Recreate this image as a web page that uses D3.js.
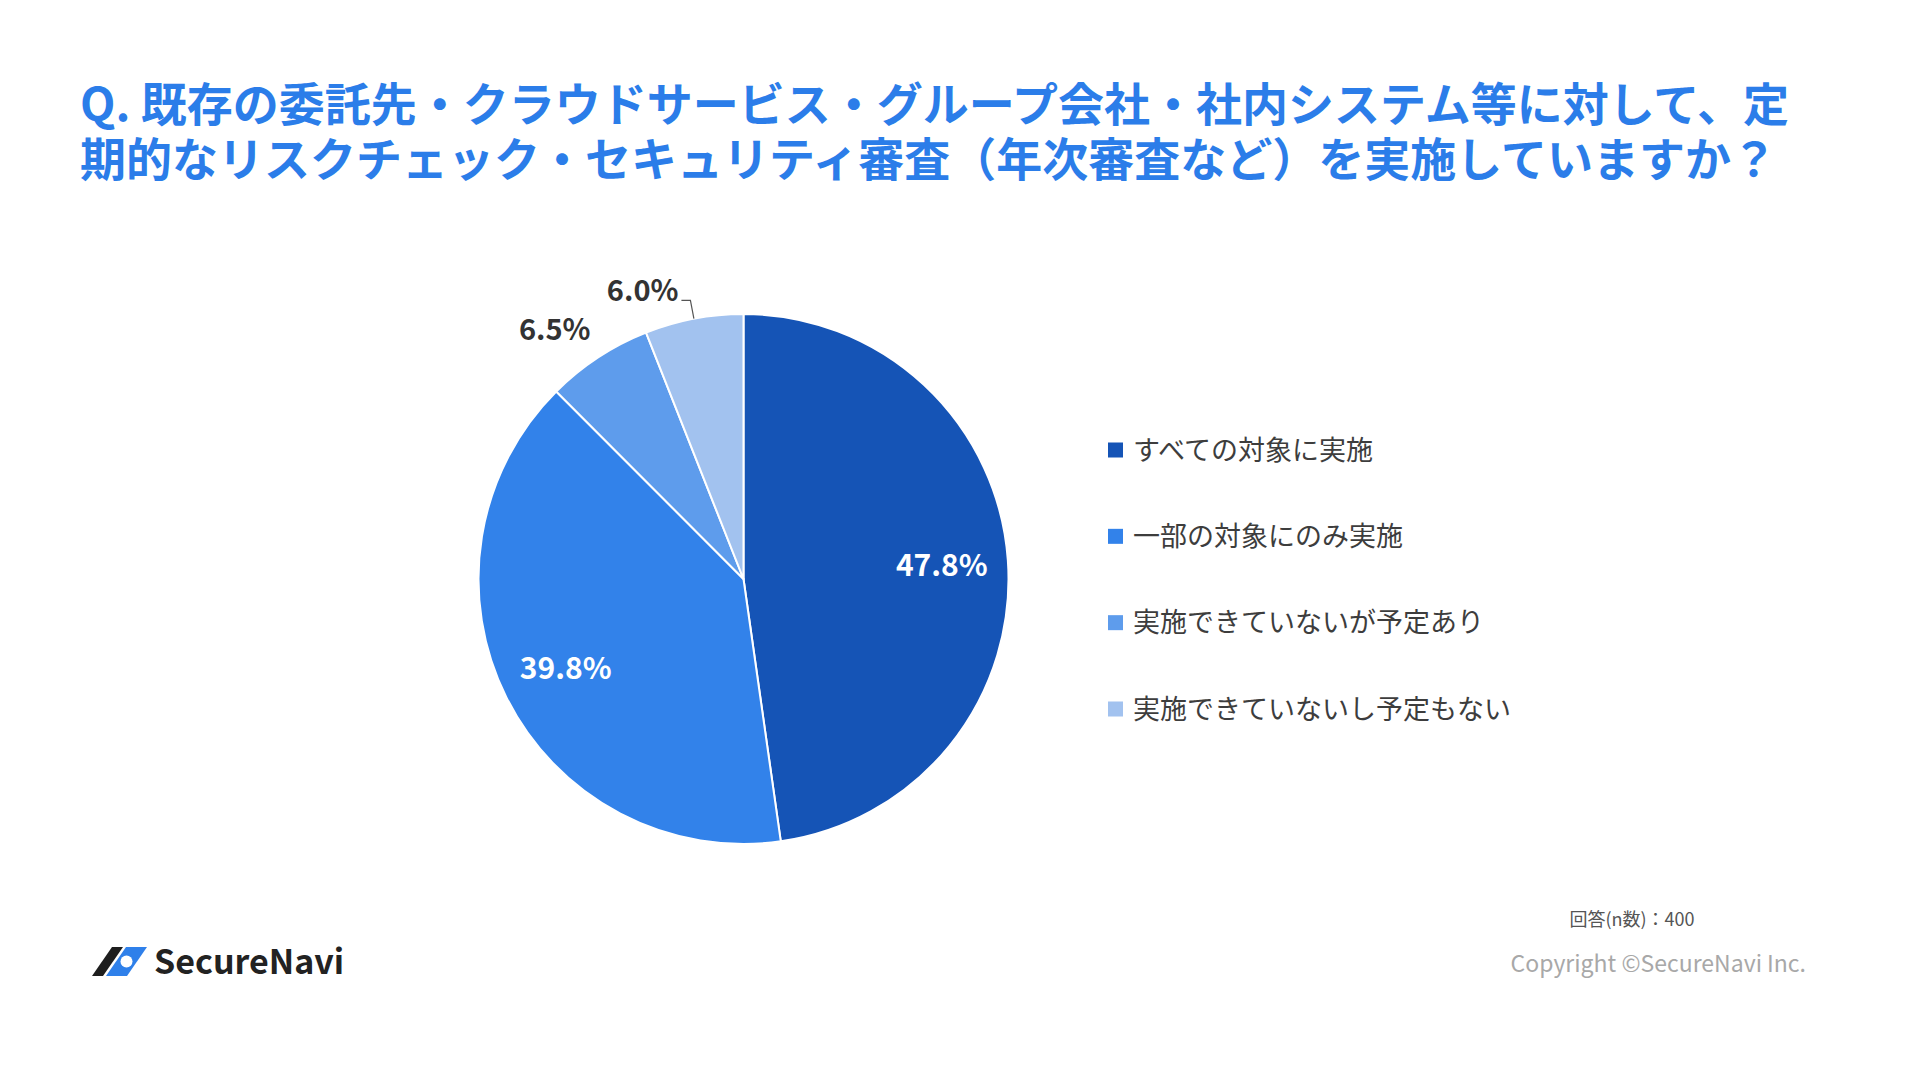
<!DOCTYPE html>
<html>
<head>
<meta charset="utf-8">
<script src="https://cdn.jsdelivr.net/npm/d3@7"></script>
<style>
  html, body { margin: 0; padding: 0; background: #ffffff; }
  svg { display: block; }
  text { font-family: "Noto Sans CJK JP", "Noto Sans", sans-serif; }
</style>
</head>
<body>
<svg id="chart" width="1920" height="1065"></svg>
<script>
// ---- data ----
const categories = ["すべての対象に実施", "一部の対象にのみ実施", "実施できていないが予定あり", "実施できていないし予定もない"];
const values = [47.8, 39.8, 6.5, 6.0];
const valueLabels = ["47.8%", "39.8%", "6.5%", "6.0%"];
const colors = ["#1554b6", "#3282ea", "#5e9cec", "#a2c2ef"];
const titleLines = [
  "Q. 既存の委託先・クラウドサービス・グループ会社・社内システム等に対して、定",
  "期的なリスクチェック・セキュリティ審査（年次審査など）を実施していますか？"
];
const sampleNote = "回答(n数)：400";
const copyright = "Copyright ©SecureNavi Inc.";
const brand = "SecureNavi";

// ---- layout ----
const cx = 743.5, cy = 579, R = 265;
const svg = d3.select("#chart");

// title (one text element, two lines)
const title = svg.append("text")
  .attr("x", 80).attr("y", 121)
  .attr("font-size", 46)
  .attr("font-weight", 700)
  .attr("fill", "#2b7de9");
title.selectAll("tspan").data(titleLines).join("tspan")
  .attr("x", 80)
  .attr("dy", (d, i) => i === 0 ? 0 : 55)
  .text(d => d);

// pie
const pie = d3.pie().sort(null).value(d => d)(values);
const arc = d3.arc().innerRadius(0).outerRadius(R);
const g = svg.append("g").attr("transform", `translate(${cx},${cy})`);
g.selectAll("path").data(pie).join("path")
  .attr("d", arc)
  .attr("fill", (d, i) => colors[i])
  .attr("stroke", "#ffffff")
  .attr("stroke-width", 2)
  .attr("stroke-linejoin", "round");

const mid = d => (d.startAngle + d.endAngle) / 2;
const pt = (a, r) => [Math.sin(a) * r, -Math.cos(a) * r];

pie.forEach((d, i) => {
  const a = mid(d);
  if (values[i] > 20) {
    const [x, y] = pt(a, R * 0.75);
    g.append("text")
      .attr("x", x).attr("y", y).attr("dy", "0.36em")
      .attr("text-anchor", "middle")
      .attr("font-size", 30).attr("font-weight", 700)
      .attr("fill", "#ffffff")
      .text(valueLabels[i]);
  } else if (i === values.length - 1) {
    const [ex, ey] = pt(a, R);
    const [bx, by] = pt(a, R * 1.07);
    g.append("path")
      .attr("d", d3.line()([[ex, ey], [bx, by], [bx - 9, by]]))
      .attr("fill", "none").attr("stroke", "#555").attr("stroke-width", 1.2);
    g.append("text")
      .attr("x", bx - 12).attr("y", by + 1)
      .attr("text-anchor", "end")
      .attr("font-size", 29).attr("font-weight", 700)
      .attr("fill", "#333333")
      .text(valueLabels[i]);
  } else {
    const [x, y] = pt(a, R * 1.08);
    g.append("text")
      .attr("x", x + 4).attr("y", y)
      .attr("text-anchor", "end")
      .attr("font-size", 29).attr("font-weight", 700)
      .attr("fill", "#333333")
      .text(valueLabels[i]);
  }
});

// legend
const ly = d3.scalePoint().domain(categories).range([450, 709]);
const leg = svg.append("g").selectAll("g").data(categories).join("g")
  .attr("transform", d => `translate(1108,${ly(d)})`);
leg.append("rect").attr("x", 0).attr("y", -7.5).attr("width", 15).attr("height", 15)
  .attr("fill", (d, i) => colors[i]);
leg.append("text").attr("x", 25).attr("y", 0).attr("dy", "0.36em")
  .attr("font-size", 27).attr("fill", "#3d3d3d")
  .text(d => d);

// footer notes
svg.append("text").attr("x", 1632).attr("y", 926).attr("text-anchor", "middle")
  .attr("font-size", 18).attr("fill", "#555555").text(sampleNote);
svg.append("text").attr("x", 1806).attr("y", 972).attr("text-anchor", "end")
  .attr("font-size", 23).attr("fill", "#a8a8a8").text(copyright);

// logo
const logo = svg.append("g");
logo.append("path").attr("d", "M92,976 L112,947 L123,947 L103,976 Z").attr("fill", "#1e1e1e");
logo.append("path").attr("d", "M106,976 L126,947 L147,947 L127,976 Z").attr("fill", "#2f80ea");
logo.append("circle").attr("cx", 126.5).attr("cy", 961.5).attr("r", 6).attr("fill", "#ffffff");
logo.append("text").attr("x", 154).attr("y", 974)
  .attr("font-size", 34).attr("font-weight", 600).attr("fill", "#222222")
  .attr("font-family", "'Noto Sans', sans-serif")
  .text(brand);
</script>
</body>
</html>
